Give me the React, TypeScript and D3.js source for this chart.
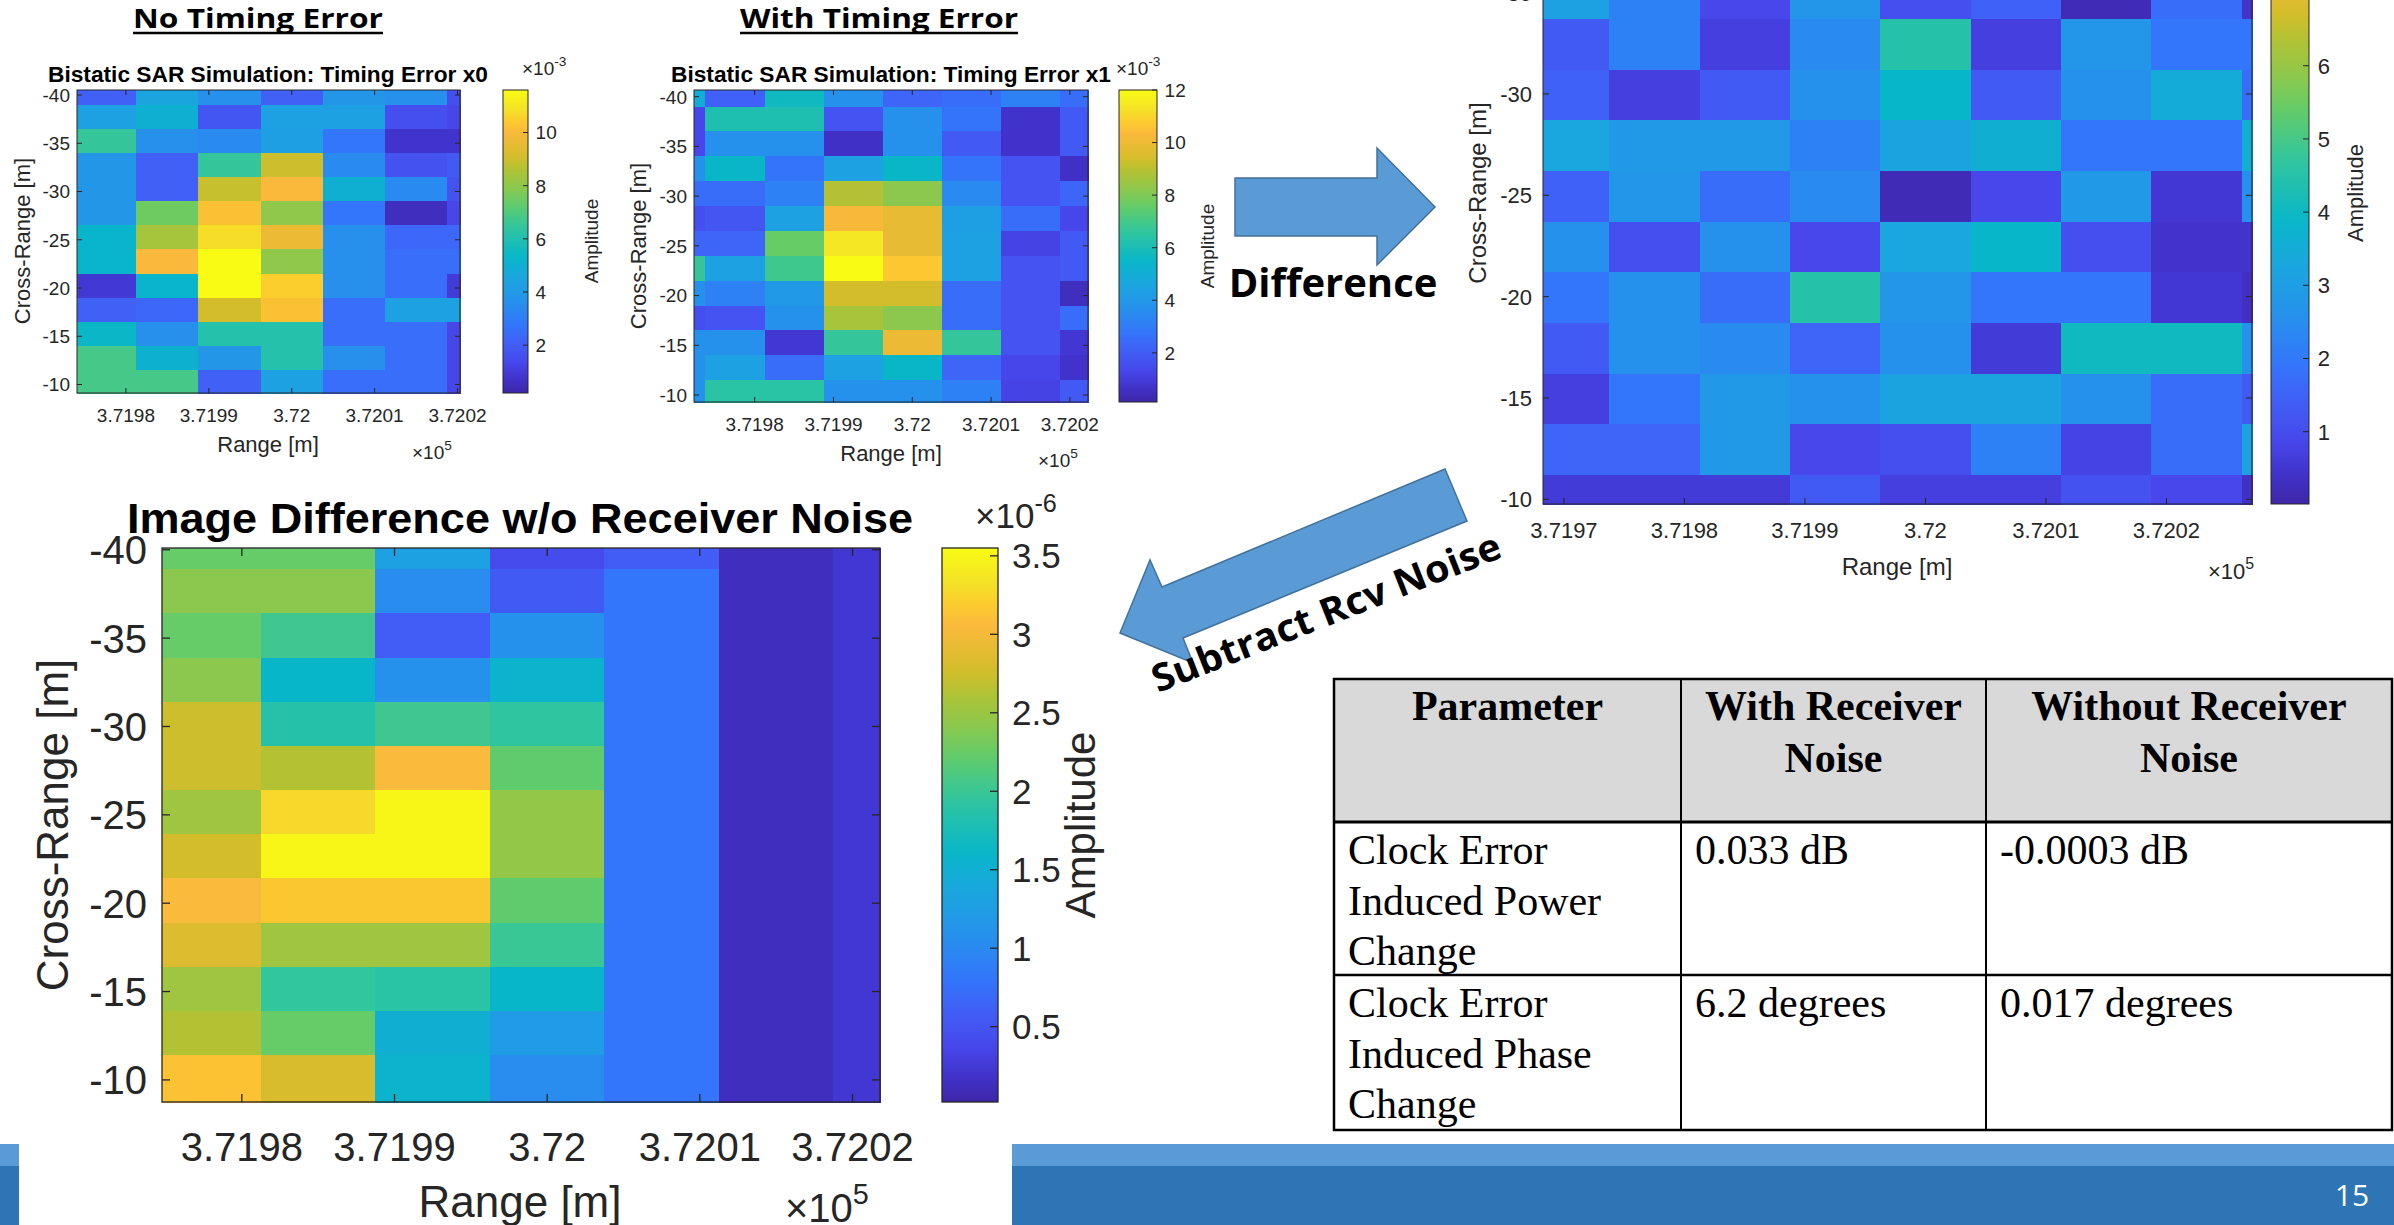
import React, { useEffect } from "react";
import * as d3 from "d3";

// ---------- data ----------
const rangeTicks = [371970, 371980, 371990, 372000, 372010, 372020];
const rangeTickLabels = ["3.7197", "3.7198", "3.7199", "3.72", "3.7201", "3.7202"];
const crossTicks = [-40, -35, -30, -25, -20, -15, -10];

// cell centres [m]
const colsA = [371977.5, 371985, 371992.5, 372000, 372007.5, 372015, 372022.5];
const colsB = [371970, 371977.5, 371985, 371992.5, 372000, 372007.5, 372015, 372022.5];
const colsC = [371970, 371977.5, 371985, 371992.5, 372000, 372007.5, 372015, 372022.5, 372030];
const rowsA = [-40.25, -37.75, -35.25, -32.75, -30.25, -27.75, -25.25, -22.75, -20.25, -17.75, -15.25, -12.75, -10.25];
const rowsC = [-34.95, -32.45, -29.95, -27.45, -24.95, -22.45, -19.95, -17.45, -14.95, -12.45, -9.95];
const rowsD = [-40.15, -37.65, -35.15, -32.65, -30.15, -27.65, -25.15, -22.65, -20.15, -17.65, -15.15, -12.65, -10.15];

// amplitude x1e-3, timing error x0
const noErrorAmp = [
  [2.1, 4.5, 3.6, 2.1, 3.85, 3.6, 1.6],
  [4.3, 5.0, 1.8, 4.3, 4.3, 1.6, 1.3],
  [6.5, 3.6, 3.4, 4.2, 2.7, 0.8, 0.8],
  [3.85, 2.1, 6.5, 9.0, 3.4, 1.7, 1.9],
  [3.85, 2.1, 8.9, 10.0, 5.0, 3.4, 1.7],
  [3.85, 7.5, 10.2, 8.0, 2.7, 0.55, 1.3],
  [5.3, 8.4, 10.8, 9.7, 3.6, 2.3, 2.3],
  [5.3, 10.0, 11.6, 8.0, 3.6, 2.5, 2.5],
  [0.9, 5.3, 11.6, 10.5, 3.6, 2.5, 1.0],
  [2.1, 2.3, 9.1, 10.2, 2.5, 4.3, 4.3],
  [5.4, 3.6, 6.1, 6.1, 2.5, 2.5, 1.3],
  [6.8, 5.1, 3.85, 6.1, 3.6, 2.5, 1.3],
  [6.8, 6.8, 2.1, 4.3, 2.5, 2.5, 1.3],
];

// amplitude x1e-3, timing error x1
const withErrorAmp = [
  [4.9, 2.15, 5.7, 3.7, 2.3, 2.5, 3.1, 2.5],
  [1.3, 6.1, 6.1, 1.7, 3.7, 2.7, 0.7, 1.9],
  [1.3, 3.7, 3.7, 0.6, 3.7, 1.9, 0.7, 1.9],
  [3.7, 5.5, 2.7, 4.4, 5.5, 2.7, 1.7, 0.6],
  [2.5, 2.5, 3.1, 8.9, 8.2, 3.45, 1.7, 2.3],
  [1.55, 1.8, 4.4, 10.3, 9.9, 4.3, 2.5, 1.3],
  [2.3, 2.3, 7.6, 11.4, 9.9, 4.4, 1.2, 1.9],
  [6.7, 4.4, 6.9, 12.0, 10.7, 4.4, 1.7, 1.9],
  [3.7, 3.1, 4.05, 9.4, 9.4, 2.5, 1.7, 0.5],
  [1.55, 1.7, 3.7, 8.7, 8.2, 2.5, 1.7, 2.5],
  [3.7, 3.7, 0.85, 6.7, 10.0, 6.7, 1.7, 0.85],
  [3.7, 4.4, 2.5, 4.4, 5.5, 2.3, 1.3, 0.7],
  [3.7, 6.4, 6.4, 3.7, 3.7, 3.1, 1.2, 1.9],
];

// difference image (with receiver noise)
const diffAmp = [
  [3.1, 2.16, 0.87, 2.76, 1.04, 1.47, 0.18, 1.73, 0.44],
  [1.3, 2.16, 0.7, 2.42, 4.48, 0.7, 2.76, 1.9, 1.9],
  [1.47, 0.7, 1.3, 2.59, 3.88, 1.3, 2.59, 3.45, 1.73],
  [3.28, 2.85, 2.85, 2.16, 3.19, 3.62, 1.9, 1.9, 3.62],
  [1.47, 2.76, 1.73, 2.42, 0.18, 0.87, 2.85, 0.53, 2.59],
  [2.59, 1.04, 2.59, 0.87, 3.28, 3.88, 1.04, 0.44, 0.44],
  [1.9, 2.59, 1.73, 4.48, 2.76, 1.9, 1.9, 0.53, 0.3],
  [1.3, 2.59, 2.42, 1.56, 2.59, 0.61, 4.05, 4.05, 2.59],
  [0.7, 1.9, 2.85, 2.59, 3.19, 3.19, 2.59, 1.73, 1.3],
  [1.56, 1.56, 2.85, 0.87, 1.04, 2.16, 0.79, 1.73, 3.1],
  [0.61, 0.61, 0.61, 1.3, 0.7, 0.7, 1.13, 0.87, 0.36],
];

// image difference w/o receiver noise, x1e-6
const diffNoRcvAmp = [
  [2.24, 2.24, 1.29, 0.41, 0.58, 0.13, 0.23],
  [2.42, 2.42, 1.04, 0.55, 0.8, 0.13, 0.23],
  [2.24, 2.03, 0.58, 1.08, 0.8, 0.13, 0.23],
  [2.42, 1.61, 1.08, 1.57, 0.8, 0.13, 0.23],
  [2.74, 1.86, 2.03, 1.93, 0.8, 0.13, 0.23],
  [2.74, 2.63, 3.06, 2.21, 0.8, 0.13, 0.23],
  [2.53, 3.27, 3.51, 2.46, 0.8, 0.13, 0.23],
  [2.77, 3.51, 3.51, 2.46, 0.8, 0.13, 0.23],
  [3.06, 3.16, 3.16, 2.21, 0.8, 0.13, 0.23],
  [2.84, 2.53, 2.53, 2.0, 0.8, 0.13, 0.23],
  [2.53, 1.96, 1.89, 1.61, 0.8, 0.13, 0.23],
  [2.63, 2.24, 1.5, 1.22, 0.8, 0.13, 0.23],
  [3.13, 2.81, 1.57, 1.04, 0.8, 0.13, 0.23],
];

const cbTicksNoErr = [2, 4, 6, 8, 10];
const cbTicksWithErr = [2, 4, 6, 8, 10, 12];
const cbTicksDiff = [1, 2, 3, 4, 5, 6, 7, 8];
const cbTicksNoRcv = [0.5, 1, 1.5, 2, 2.5, 3, 3.5];

const tableHeader = [["Parameter"], ["With Receiver", "Noise"], ["Without Receiver", "Noise"]];
const tableRows = [
  [["Clock Error", "Induced Power", "Change"], ["0.033 dB"], ["-0.0003 dB"]],
  [["Clock Error", "Induced Phase", "Change"], ["6.2 degrees"], ["0.017 degrees"]],
];

// ---------- colormap (parula-like) ----------
const parulaStops = [0, 0.05, 0.1, 0.17, 0.22, 0.3, 0.38, 0.45, 0.55, 0.63, 0.68, 0.74, 0.78, 0.86, 0.9, 0.94, 1];
const parulaColors = [
  "rgb(62,38,168)", "rgb(65,51,204)", "rgb(71,71,235)", "rgb(64,97,247)", "rgb(51,117,251)",
  "rgb(38,145,236)", "rgb(26,166,222)", "rgb(8,182,201)", "rgb(50,198,156)", "rgb(102,204,102)",
  "rgb(140,200,77)", "rgb(179,194,51)", "rgb(212,189,43)", "rgb(250,185,59)", "rgb(252,204,46)",
  "rgb(244,227,38)", "rgb(249,251,20)",
];
const parula = d3
  .scaleLinear<string>()
  .domain(parulaStops)
  .range(parulaColors)
  .interpolate(d3.interpolateRgb)
  .clamp(true);

const SANS = "'Liberation Sans', Arial, sans-serif";
const SLIDE = "'Open Sans', 'Liberation Sans', sans-serif";
const SERIF = "'Liberation Serif', 'Times New Roman', serif";
const INK = "#262626";

type HeatProps = {
  id: string;
  cols: number[];
  rows: number[];
  values: number[][];
  xDom: [number, number];
  xPx: [number, number];
  yDom: [number, number];
  yPx: [number, number];
  cDom: [number, number];
  cPx: [number, number];
  cbX: [number, number];
  xTicks: number[];
  xTickLabels: string[];
  cTicks: number[];
  tick: number;
  cbTick?: number;
  label: number;
  tickLen: number;
  stroke: number;
  xTickBase: number;
  yTickRight: number;
  xLabel: [number, number];
  yLabelX: number;
  yLabelY: number;
  xExp: [number, number];
  cExp?: [number, number, string];
  ampX: number;
  ampY: number;
  ampSize: number;
  title?: { text: string; x: number; y: number; size: number; width: number };
};

function edges(cs: number[], dom: [number, number]) {
  return cs.map((v, i) => [
    i === 0 ? dom[0] : (cs[i - 1] + v) / 2,
    i === cs.length - 1 ? dom[1] : (v + cs[i + 1]) / 2,
  ]);
}

function Heatmap(p: HeatProps) {
  const x = d3.scaleLinear().domain(p.xDom).range(p.xPx);
  const y = d3.scaleLinear().domain(p.yDom).range(p.yPx);
  const c = d3.scaleLinear().domain(p.cDom).range(p.cPx);
  const xe = edges(p.cols, p.xDom);
  const ye = edges(p.rows, p.yDom);
  const [l, r] = p.xPx;
  const [t, b] = p.yPx;
  const f = (v: number) => (v - p.cDom[0]) / (p.cDom[1] - p.cDom[0]);
  const xt = p.xTicks.map((v, i) => ({ v, s: p.xTickLabels[i] })).filter((d) => d.v >= p.xDom[0] && d.v <= p.xDom[1]);
  const yt = crossTicks.filter((v) => v >= p.yDom[0] && v <= p.yDom[1]);
  const ct = p.cTicks.filter((v) => v >= p.cDom[0] && v <= p.cDom[1]);
  const [cl, cr] = p.cbX;
  const [cb, ctop] = p.cPx;
  const cbt = p.cbTick ?? p.tick;

  return (
    <g>
      <g shapeRendering="crispEdges">
        {p.values.map((row, i) =>
          row.map((v, j) => (
            <rect
              key={`${i}-${j}`}
              x={x(xe[j][0])}
              y={y(ye[i][0])}
              width={x(xe[j][1]) - x(xe[j][0]) + 0.6}
              height={y(ye[i][1]) - y(ye[i][0]) + 0.6}
              fill={parula(f(v))}
            />
          ))
        )}
      </g>
      <rect x={l} y={t} width={r - l} height={b - t} fill="none" stroke={INK} strokeWidth={p.stroke} />
      {xt.map((d) => (
        <g key={d.s}>
          <line x1={x(d.v)} x2={x(d.v)} y1={b} y2={b - p.tickLen} stroke={INK} strokeWidth={p.stroke} />
          <line x1={x(d.v)} x2={x(d.v)} y1={t} y2={t + p.tickLen} stroke={INK} strokeWidth={p.stroke} />
          <text x={x(d.v)} y={p.xTickBase} textAnchor="middle" fontSize={p.tick} fontFamily={SANS} fill={INK}>
            {d.s}
          </text>
        </g>
      ))}
      {yt.map((v) => (
        <g key={v}>
          <line x1={l} x2={l + p.tickLen} y1={y(v)} y2={y(v)} stroke={INK} strokeWidth={p.stroke} />
          <line x1={r} x2={r - p.tickLen} y1={y(v)} y2={y(v)} stroke={INK} strokeWidth={p.stroke} />
          <text x={p.yTickRight} y={y(v)} dy="0.36em" textAnchor="end" fontSize={p.tick} fontFamily={SANS} fill={INK}>
            {v}
          </text>
        </g>
      ))}
      <text x={p.xLabel[0]} y={p.xLabel[1]} textAnchor="middle" fontSize={p.label} fontFamily={SANS} fill={INK}>
        Range [m]
      </text>
      <text x={p.xExp[0]} y={p.xExp[1]} fontSize={p.tick} fontFamily={SANS} fill={INK}>
        ×10
        <tspan dy={-p.tick * 0.45} fontSize={p.tick * 0.72}>5</tspan>
      </text>
      <text
        transform={`translate(${p.yLabelX},${p.yLabelY}) rotate(-90)`}
        dy="0.36em"
        textAnchor="middle"
        fontSize={p.label}
        fontFamily={SANS}
        fill={INK}
      >
        Cross-Range [m]
      </text>
      {p.title && (
        <text
          x={p.title.x}
          y={p.title.y}
          textAnchor="middle"
          fontSize={p.title.size}
          fontWeight="bold"
          fontFamily={SANS}
          fill="#000"
          textLength={p.title.width}
          lengthAdjust="spacingAndGlyphs"
        >
          {p.title.text}
        </text>
      )}
      {/* colorbar */}
      <defs>
        <linearGradient id={`${p.id}-grad`} x1="0" y1="1" x2="0" y2="0">
          {d3.range(0, 1.0001, 0.02).map((s) => (
            <stop key={s} offset={s} stopColor={parula(s)} />
          ))}
        </linearGradient>
      </defs>
      <rect x={cl} y={ctop} width={cr - cl} height={cb - ctop} fill={`url(#${p.id}-grad)`} />
      <rect x={cl} y={ctop} width={cr - cl} height={cb - ctop} fill="none" stroke={INK} strokeWidth={p.stroke} />
      {ct.map((v) => (
        <g key={v}>
          <line x1={cr - p.tickLen} x2={cr} y1={c(v)} y2={c(v)} stroke={INK} strokeWidth={p.stroke} />
          <text x={cr + cbt * 0.4} y={c(v)} dy="0.36em" fontSize={cbt} fontFamily={SANS} fill={INK}>
            {v}
          </text>
        </g>
      ))}
      {p.cExp && (
        <text x={p.cExp[0]} y={p.cExp[1]} fontSize={cbt} fontFamily={SANS} fill={INK}>
          ×10
          <tspan dy={-cbt * 0.45} fontSize={cbt * 0.72}>{p.cExp[2]}</tspan>
        </text>
      )}
      <text
        transform={`translate(${p.ampX},${p.ampY}) rotate(-90)`}
        dy="0.36em"
        textAnchor="middle"
        fontSize={p.ampSize}
        fontFamily={SANS}
        fill={INK}
      >
        Amplitude
      </text>
    </g>
  );
}

function ParamTable() {
  const xs = [1334, 1681, 1986, 2392];
  const ys = [679, 822, 975, 1130];
  const fs = 42;
  return (
    <g fontFamily={SERIF} fill="#000">
      <rect x={xs[0]} y={ys[0]} width={xs[3] - xs[0]} height={ys[1] - ys[0]} fill="#D9D9D9" />
      {tableHeader.map((lines, ci) =>
        lines.map((s, li) => (
          <text key={`${ci}-${li}`} x={(xs[ci] + xs[ci + 1]) / 2} y={720 + li * 52} textAnchor="middle" fontSize={fs} fontWeight="bold">
            {s}
          </text>
        ))
      )}
      {tableRows.map((row, ri) =>
        row.map((lines, ci) =>
          lines.map((s, li) => (
            <text key={`${ri}-${ci}-${li}`} x={xs[ci] + 14} y={ys[ri + 1] + 42 + li * 50.5} fontSize={fs}>
              {s}
            </text>
          ))
        )
      )}
      <g stroke="#000" fill="none">
        <rect x={xs[0]} y={ys[0]} width={xs[3] - xs[0]} height={ys[3] - ys[0]} strokeWidth={2.5} />
        <line x1={xs[0]} x2={xs[3]} y1={ys[1]} y2={ys[1]} strokeWidth={3} />
        <line x1={xs[0]} x2={xs[3]} y1={ys[2]} y2={ys[2]} strokeWidth={2.5} />
        <line x1={xs[1]} x2={xs[1]} y1={ys[0]} y2={ys[3]} strokeWidth={2} />
        <line x1={xs[2]} x2={xs[2]} y1={ys[0]} y2={ys[3]} strokeWidth={2} />
      </g>
    </g>
  );
}

const arrowRight = [[1235, 178], [1377, 178], [1377, 148], [1435, 207], [1377, 265], [1377, 236], [1235, 236]];
const arrowDown = [[1120, 633], [1150, 560], [1162, 587], [1445, 469], [1467, 521], [1183, 638], [1193, 663]];

export default function App() {
  useEffect(() => {
    document.body.style.margin = "0";
    document.body.style.overflow = "hidden";
  }, []);

  return (
    <svg width={2394} height={1225} style={{ position: "absolute", left: 0, top: 0, display: "block" }}>
      <rect width={2394} height={1225} fill="#fff" />
      {/* footer */}
      <rect x={0} y={1144} width={2394} height={22} fill="#5B9BD5" />
      <rect x={0} y={1166} width={2394} height={59} fill="#2E75B6" />
      <rect x={19} y={1130} width={993} height={95} fill="#fff" />
      <text x={2352} y={1206} textAnchor="middle" fontSize={30} fontFamily={SLIDE} fill="#fff">15</text>

      {/* headings */}
      <text x={258} y={28} textAnchor="middle" fontSize={26} fontWeight="bold" fontFamily={SLIDE} textLength={250} lengthAdjust="spacingAndGlyphs">
        No Timing Error
      </text>
      <line x1={133} x2={383} y1={33} y2={33} stroke="#000" strokeWidth={2.5} />
      <text x={879} y={28} textAnchor="middle" fontSize={26} fontWeight="bold" fontFamily={SLIDE} textLength={278} lengthAdjust="spacingAndGlyphs">
        With Timing Error
      </text>
      <line x1={740} x2={1018} y1={33} y2={33} stroke="#000" strokeWidth={2.5} />

      <Heatmap
        id="a"
        cols={colsA}
        rows={rowsA}
        values={noErrorAmp}
        xDom={[371974.1, 372020.3]}
        xPx={[77, 460]}
        yDom={[-40.52, -9.12]}
        yPx={[90, 393]}
        cDom={[0.2, 11.6]}
        cPx={[393, 90]}
        cbX={[503, 528]}
        xTicks={rangeTicks}
        xTickLabels={rangeTickLabels}
        cTicks={cbTicksNoErr}
        tick={19}
        label={22}
        tickLen={5}
        stroke={1}
        xTickBase={422}
        yTickRight={70}
        xLabel={[268, 452]}
        yLabelX={22}
        yLabelY={241}
        xExp={[412, 459]}
        cExp={[522, 75, "-3"]}
        ampX={591}
        ampY={241}
        ampSize={19}
        title={{ text: "Bistatic SAR Simulation: Timing Error x0", x: 268, y: 82, size: 22, width: 440 }}
      />
      <Heatmap
        id="b"
        cols={colsB}
        rows={rowsA}
        values={withErrorAmp}
        xDom={[371972.3, 372022.3]}
        xPx={[694, 1088]}
        yDom={[-40.67, -9.3]}
        yPx={[90, 402]}
        cDom={[0.13, 12.0]}
        cPx={[402, 90]}
        cbX={[1119, 1157]}
        xTicks={rangeTicks}
        xTickLabels={rangeTickLabels}
        cTicks={cbTicksWithErr}
        tick={19}
        label={22}
        tickLen={5}
        stroke={1}
        xTickBase={431}
        yTickRight={687}
        xLabel={[891, 461]}
        yLabelX={638}
        yLabelY={246}
        xExp={[1038, 467]}
        cExp={[1116, 75, "-3"]}
        ampX={1207}
        ampY={246}
        ampSize={19}
        title={{ text: "Bistatic SAR Simulation: Timing Error x1", x: 891, y: 82, size: 22, width: 440 }}
      />
      <Heatmap
        id="c"
        cols={colsC}
        rows={rowsC}
        values={diffAmp}
        xDom={[371968.26, 372027.1]}
        xPx={[1543, 2252]}
        yDom={[-36.2, -9.77]}
        yPx={[-31.7, 504]}
        cDom={[0.012, 8.6]}
        cPx={[504, -124.6]}
        cbX={[2271, 2309]}
        xTicks={rangeTicks}
        xTickLabels={rangeTickLabels}
        cTicks={cbTicksDiff}
        tick={22}
        label={24}
        tickLen={6}
        stroke={1}
        xTickBase={538}
        yTickRight={1532}
        xLabel={[1897, 575]}
        yLabelX={1477}
        yLabelY={193}
        xExp={[2208, 579]}
        ampX={2355}
        ampY={193}
        ampSize={22}
      />

      {/* bottom-left */}
      <Heatmap
        id="d"
        cols={colsA}
        rows={rowsD}
        values={diffNoRcvAmp}
        xDom={[371974.77, 372021.8]}
        xPx={[162, 880]}
        yDom={[-40.1, -8.75]}
        yPx={[548, 1102]}
        cDom={[0.02, 3.55]}
        cPx={[1102, 548]}
        cbX={[942, 998]}
        xTicks={rangeTicks}
        xTickLabels={rangeTickLabels}
        cTicks={cbTicksNoRcv}
        tick={40}
        cbTick={35}
        label={44}
        tickLen={8}
        stroke={1.3}
        xTickBase={1161}
        yTickRight={147}
        xLabel={[520, 1217]}
        yLabelX={52}
        yLabelY={825}
        xExp={[785, 1222]}
        cExp={[975, 528, "-6"]}
        ampX={1080}
        ampY={825}
        ampSize={42}
        title={{ text: "Image Difference w/o Receiver Noise", x: 520, y: 533, size: 42, width: 786 }}
      />

      {/* arrows */}
      <polygon points={arrowRight.map((d) => d.join(",")).join(" ")} fill="#5B9BD5" stroke="#41719C" strokeWidth={1.5} />
      <text x={1333} y={297} textAnchor="middle" fontSize={40} fontWeight="bold" fontFamily={SLIDE}>
        Difference
      </text>
      <polygon points={arrowDown.map((d) => d.join(",")).join(" ")} fill="#5B9BD5" stroke="#41719C" strokeWidth={1.5} />
      <text
        transform="translate(1158,693) rotate(-21.5)"
        fontSize={38}
        fontWeight="bold"
        fontFamily={SLIDE}
        textLength={372}
        lengthAdjust="spacingAndGlyphs"
      >
        Subtract Rcv Noise
      </text>

      <ParamTable />
    </svg>
  );
}
